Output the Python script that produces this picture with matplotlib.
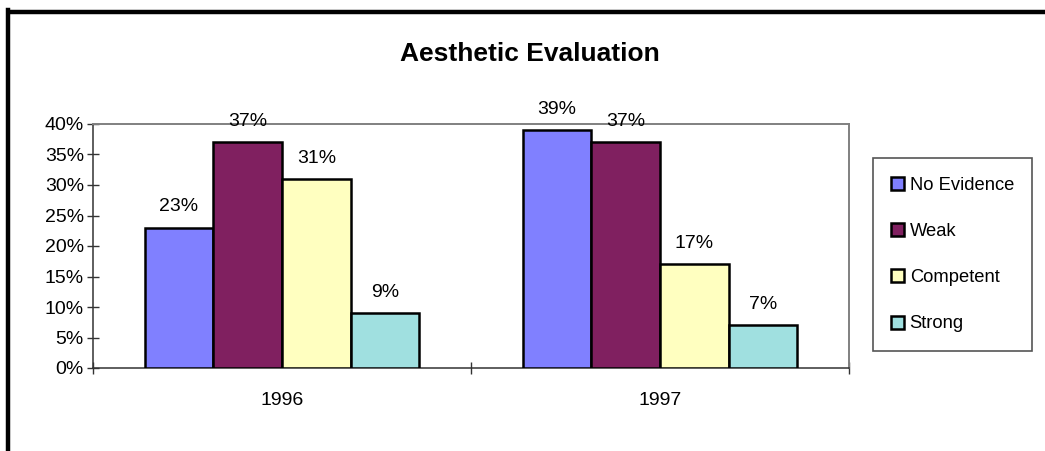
import matplotlib.pyplot as plt
from matplotlib.patches import Patch
from matplotlib.lines import Line2D
import numpy as np

plt.rcParams["font.family"] = ["Liberation Sans", "DejaVu Sans"]

YEARS       = ["1996", "1997"]
LEVELS      = ["No Evidence", "Weak", "Competent", "Strong"]
NO_EVIDENCE = [23, 39]
WEAK        = [37, 37]
COMPETENT   = [31, 17]
STRONG      = [9, 7]
Y_TICKS     = [0, 5, 10, 15, 20, 25, 30, 35, 40]

COLORS = ["#8080FF", "#802060", "#FFFFC0", "#A0E0E0"]

W, H = 1045, 451
fig = plt.figure(figsize=(W / 100, H / 100), dpi=100, facecolor="white")
ax = fig.add_axes([93 / W, 1 - 368 / H, (849 - 93) / W, (368 - 124) / H])

series = [NO_EVIDENCE, WEAK, COMPETENT, STRONG]
x = np.arange(len(YEARS))
bw = 1 / 5.5
for k, (vals, col) in enumerate(zip(series, COLORS)):
    xs = x + (k - 1.5) * bw
    bars = ax.bar(xs, vals, width=bw, color=col, edgecolor="black",
                  linewidth=1.8, zorder=3)
    for b, v in zip(bars, vals):
        ax.annotate(f"{v}%", (b.get_x() + b.get_width() / 2, v),
                    xytext=(0, 15), textcoords="offset points",
                    ha="center", va="center", fontsize=14, color="black",
                    zorder=5, annotation_clip=False)

ax.set_xlim(-0.5, 1.5)
ax.set_ylim(0, 40)
ax.set_yticks(Y_TICKS)
ax.set_yticklabels([f"{t}%" for t in Y_TICKS], fontsize=14)
ax.set_xticks([-0.5, 0.5, 1.5])
ax.set_xticklabels([])
ax.set_xticks(x, minor=True)
ax.set_xticklabels(YEARS, minor=True, fontsize=14)
ax.tick_params(axis="x", which="minor", length=0, pad=17)
ax.tick_params(axis="x", which="major", direction="inout", length=9,
               width=1.0, color="#333333")
ax.tick_params(axis="y", direction="inout", length=9, width=1.0,
               color="#333333", pad=2)

for side in ["top", "right"]:
    ax.spines[side].set_color("#808080")
    ax.spines[side].set_linewidth(1.4)
for side in ["left", "bottom"]:
    ax.spines[side].set_color("#333333")
    ax.spines[side].set_linewidth(1.1)

fig.text(530 / W, 1 - 54 / H, "Aesthetic Evaluation", ha="center",
         va="center", fontsize=19, fontweight="bold")

handles = [Patch(facecolor=c, edgecolor="black", linewidth=1.8) for c in COLORS]
leg = fig.legend(handles, LEVELS, loc="center left",
                 bbox_to_anchor=(873 / W, 1 - 254.5 / H),
                 fontsize=13.2, frameon=True, fancybox=False,
                 edgecolor="#555555", framealpha=1, borderpad=1.0,
                 labelspacing=1.6, handlelength=0.7, handleheight=0.7,
                 handletextpad=0.3, borderaxespad=0)
leg.get_frame().set_linewidth(1.2)
for t in leg.get_texts():
    t.set_color("black")

# heavy frame lines along the left and top edges
fig.add_artist(Line2D([8 / W, 8 / W], [0, 1 - 10 / H], color="black",
                      linewidth=3.2, transform=fig.transFigure,
                      solid_capstyle="projecting"))
fig.add_artist(Line2D([8 / W, 1], [1 - 12 / H, 1 - 12 / H], color="black",
                      linewidth=3.2, transform=fig.transFigure,
                      solid_capstyle="butt"))

fig.savefig("out.png", dpi=100, facecolor="white")
